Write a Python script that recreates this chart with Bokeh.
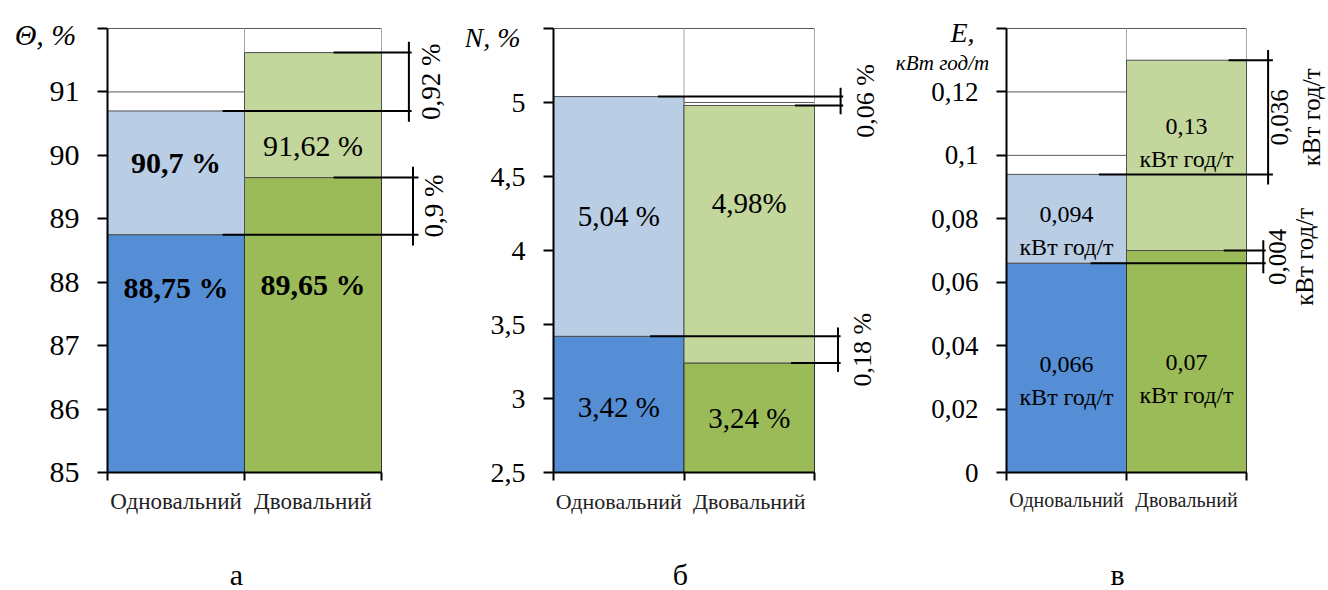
from bokeh.plotting import figure
from bokeh.models import Range1d, LinearAxis, FixedTicker
from bokeh.layouts import row
from bokeh.core.properties import value
from bokeh.embed import file_html
from bokeh.resources import INLINE

FONT = "Liberation Serif"

# ---------------- data ----------------
categories = ["Одновальний", "Двовальний"]

# panel а: Θ, %
theta_lower = [88.75, 89.65]
theta_upper = [90.7, 91.62]
theta_labels_lower = ["88,75 %", "89,65 %"]
theta_labels_upper = ["90,7 %", "91,62 %"]
theta_ticks = [85, 86, 87, 88, 89, 90, 91, 92]
theta_tick_labels = ["85", "86", "87", "88", "89", "90", "91", ""]

# panel б: N, %
n_lower = [3.42, 3.24]
n_upper = [5.04, 4.98]
n_labels_lower = ["3,42 %", "3,24 %"]
n_labels_upper = ["5,04 %", "4,98%"]
n_ticks = [2.5, 3, 3.5, 4, 4.5, 5, 5.5]
n_tick_labels = ["2,5", "3", "3,5", "4", "4,5", "5", ""]

# panel в: E, кВт год/т
e_lower = [0.066, 0.07]
e_upper = [0.094, 0.13]
e_unit = "кВт год/т"
e_labels_lower = ["0,066\n" + e_unit, "0,07\n" + e_unit]
e_labels_upper = ["0,094\n" + e_unit, "0,13\n" + e_unit]
e_ticks = [0, 0.02, 0.04, 0.06, 0.08, 0.1, 0.12, 0.14]
e_tick_labels = ["0", "0,02", "0,04", "0,06", "0,08", "0,1", "0,12", ""]

panel_letters = ["а", "б", "в"]

# ---------------- style ----------------
BLUE_D, BLUE_L = "#558ED5", "#B9CDE5"
GREEN_D, GREEN_L = "#9BBB59", "#C3D69B"
H = 590
FRAME_TOP, FRAME_BOTTOM = 28, 472   # pixel rows of the plot area
LETTER_ROW = 574


def fmt(v):
    return f"{round(v, 4):g}".replace(".", ",")


def base(width, px_left, px_per_x, ticks, tick_labels, tick_size, cat_size):
    ymin, ymax = ticks[0], ticks[-1]
    py = (FRAME_BOTTOM - FRAME_TOP) / (ymax - ymin)
    x0 = -px_left / px_per_x
    x1 = (width - px_left) / px_per_x
    y0 = ymin - (H - FRAME_BOTTOM) / py
    y1 = ymax + FRAME_TOP / py
    p = figure(width=width, height=H, x_range=Range1d(x0, x1), y_range=Range1d(y0, y1),
               x_axis_type=None, y_axis_type=None, output_backend="svg", toolbar_location=None,
               min_border=0)
    p.outline_line_color = None
    p.background_fill_color = "white"
    p.border_fill_color = "white"

    # grid / frame lines (behind bars)
    gy = ticks[1:]
    p.segment(x0=[0] * len(gy), x1=[2] * len(gy), y0=gy, y1=gy, line_color="#595959", line_width=1)
    p.segment(x0=[1, 2], x1=[1, 2], y0=[ymin, ymin], y1=[ymax, ymax], line_color="#a6a6a6", line_width=1)

    ya = LinearAxis(ticker=FixedTicker(ticks=ticks, minor_ticks=[]), fixed_location=0,
                    bounds=(ymin, ymax),
                    major_label_overrides={t: l for t, l in zip(ticks, tick_labels)})
    ya.axis_line_width = 2
    ya.axis_line_color = "black"
    ya.major_tick_line_width = 2
    ya.major_tick_line_color = "black"
    ya.major_tick_out = 10
    ya.major_tick_in = 0
    ya.minor_tick_line_color = None
    ya.major_label_standoff = 18
    ya.major_label_text_font = FONT
    ya.major_label_text_font_size = tick_size
    ya.major_label_text_color = "black"
    p.add_layout(ya, "left")

    xa = LinearAxis(ticker=FixedTicker(ticks=[0.5, 1.5], minor_ticks=[0, 1, 2]), bounds=(0, 2),
                    fixed_location=ymin,
                    major_label_overrides={0.5: categories[0], 1.5: categories[1]})
    xa.axis_line_width = 2
    xa.axis_line_color = "black"
    xa.major_tick_line_color = None
    xa.major_tick_out = 8
    xa.major_tick_in = 0
    xa.minor_tick_line_color = "black"
    xa.minor_tick_line_width = 2
    xa.minor_tick_out = 8
    xa.minor_tick_in = 0
    xa.major_label_standoff = 8
    xa.major_label_text_font = FONT
    xa.major_label_text_font_size = cat_size
    xa.major_label_text_color = "#222222"
    p.add_layout(xa, "below")
    return p, py


def bars(p, ymin, lower, upper):
    p.vbar(x=[0.5, 1.5], width=1, bottom=[ymin, ymin], top=lower,
           fill_color=[BLUE_D, GREEN_D], line_color="#303030", line_width=1)
    p.vbar(x=[0.5, 1.5], width=1, bottom=lower, top=upper,
           fill_color=[BLUE_L, GREEN_L], line_color="#505050", line_width=1)


def value_labels(p, texts, ys, size, styles=None, line_h=1.2):
    p.text(x=[0.5, 1.5], y=ys, text=texts, text_font=value(FONT), text_font_size=value(size),
           text_align="center", text_baseline="middle", text_color="black",
           text_font_style=styles if styles else "normal", text_line_height=line_h)


def bracket(p, vl, vr, xl0, xr0, xe, xv, ext, xt, text, size, line_h=1.2):
    p.segment(x0=[xl0, xr0], x1=[xe, xe], y0=[vl, vr], y1=[vl, vr], line_color="black", line_width=2)
    lo, hi = min(vl, vr) - ext, max(vl, vr) + ext
    p.segment(x0=[xv], x1=[xv], y0=[lo], y1=[hi], line_color="black", line_width=2)
    p.text(x=[xt], y=[(lo + hi) / 2], text=[text], angle=1.5708, text_font=value(FONT),
           text_font_size=value(size), text_align="center", text_baseline="middle",
           text_color="black", text_line_height=line_h)


def label(p, x, y, text, size, style="normal", baseline="middle", align="center"):
    p.text(x=[x], y=[y], text=[text], text_font=value(FONT), text_font_size=value(size),
           text_font_style=style, text_align=align, text_baseline=baseline, text_color="black")


# ---------------- panel а ----------------
pa, ua = base(465, 107, 137, theta_ticks, theta_tick_labels, "30px", "23px")
ya0 = theta_ticks[0]
bars(pa, ya0, theta_lower, theta_upper)
value_labels(pa, theta_labels_upper, [89.88, 90.15], "30px", ["bold", "normal"])
value_labels(pa, theta_labels_lower, [87.91, 87.97], "30px", ["bold", "bold"])
bracket(pa, theta_upper[0], theta_upper[1], 0.84, 1.65, 2.22, 2.20, 0.17, 2.36,
        fmt(abs(theta_upper[1] - theta_upper[0])) + " %", "27px")
bracket(pa, theta_lower[0], theta_lower[1], 0.84, 1.65, 2.27, 2.23, 0.17, 2.38,
        fmt(abs(theta_lower[1] - theta_lower[0])) + " %", "27px")
label(pa, (45 - 107) / 137, ya0 + (FRAME_BOTTOM - 34) / ua, "Θ, %", "30px", "italic")
label(pa, (236 - 107) / 137, ya0 - (LETTER_ROW - FRAME_BOTTOM) / ua, panel_letters[0], "30px")

# ---------------- panel б ----------------
pb, ub = base(420, 88, 130.5, n_ticks, n_tick_labels, "28px", "22px")
yb0 = n_ticks[0]
bars(pb, yb0, n_lower, n_upper)
value_labels(pb, n_labels_upper, [4.23, 4.32], "29px")
value_labels(pb, n_labels_lower, [2.94, 2.87], "29px")
bracket(pb, n_upper[0], n_upper[1], 0.80, 1.85, 2.22, 2.20, 0.06, 2.39,
        fmt(abs(n_upper[1] - n_upper[0])) + " %", "26px")
bracket(pb, n_lower[0], n_lower[1], 0.74, 1.82, 2.20, 2.18, 0.06, 2.37,
        fmt(abs(n_lower[1] - n_lower[0])) + " %", "26px")
label(pb, (492 - 553) / 130.5, yb0 + (FRAME_BOTTOM - 37) / ub, "N, %", "28px", "italic")
label(pb, (680 - 553) / 130.5, yb0 - (LETTER_ROW - FRAME_BOTTOM) / ub, panel_letters[1], "30px")

# ---------------- panel в ----------------
pc, uc = base(443, 121, 120, e_ticks, e_tick_labels, "27px", "20px")
yc0 = e_ticks[0]
bars(pc, yc0, e_lower, e_upper)
value_labels(pc, e_labels_upper, [0.0763, 0.104], "24px", line_h=1.25)
value_labels(pc, e_labels_lower, [0.029, 0.0296], "24px", line_h=1.25)
bracket(pc, e_upper[0], e_upper[1], 0.77, 1.85, 2.22, 2.18, 0.0032, 2.41,
        fmt(abs(e_upper[1] - e_upper[0])) + "\n" + e_unit, "25px", 1.2)
bracket(pc, e_lower[0], e_lower[1], 0.70, 1.81, 2.16, 2.14, 0.0032, 2.37,
        fmt(abs(e_lower[1] - e_lower[0])) + "\n" + e_unit, "25px", 1.0)
label(pc, (962 - 1006) / 120, yc0 + (FRAME_BOTTOM - 32) / uc, "E,", "28px", "italic")
label(pc, (942 - 1006) / 120, yc0 + (FRAME_BOTTOM - 62) / uc, "кВт год/т", "21px", "italic")
label(pc, (1117 - 1006) / 120, yc0 - (LETTER_ROW - FRAME_BOTTOM) / uc, panel_letters[2], "30px")

layout = row(pa, pb, pc)
open("out.html", "w").write(file_html(layout, INLINE))
